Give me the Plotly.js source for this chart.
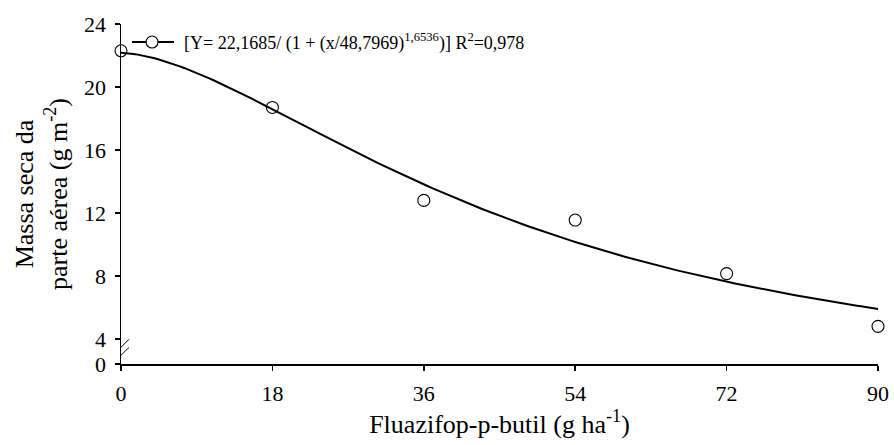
<!DOCTYPE html>
<html><head><meta charset="utf-8">
<script src="https://cdn.plot.ly/plotly-3.0.1.min.js"></script>
<style>html,body{margin:0;padding:0;background:#fff}</style>
</head><body>
<div id="chart" style="width:894px;height:445px"></div>
<script>
// Observed data
const doses = [0, 18, 36, 54, 72, 90];
const massa = [22.3, 18.7, 12.8, 11.55, 8.15, 4.8];
// Fitted model parameters (from legend)
const fitA = 22.1685, fitX0 = 48.7969, fitB = 1.6536;
const xTickVals = [0, 18, 36, 54, 72, 90];
const yTickVals = [4, 8, 12, 16, 20, 24];
const yBreakZero = 2.41; // axis position where the "0" label sits (broken axis)

const curveX = [], curveY = [];
for (let i = 0; i <= 180; i++) {
  const x = i * 0.5;
  curveX.push(x);
  curveY.push(fitA / (1 + Math.pow(x / fitX0, fitB)));
}
const legendText = '[Y= 22,1685/ (1 + (x/48,7969)<sup>1,6536</sup>)] R<sup>2</sup>=0,978';
const font = '"Liberation Serif", "Times New Roman", serif';

const traces = [
  {x: curveX, y: curveY, mode: 'lines', line: {color: '#000', width: 2}, showlegend: false, hoverinfo: 'skip'},
  {x: doses, y: massa, mode: 'markers', marker: {symbol: 'circle-open', size: 12, color: '#000', line: {width: 1.1}}, showlegend: false, cliponaxis: false}
];

const legY = 0.947;
const layout = {
  width: 894, height: 445,
  margin: {l: 121, r: 16, t: 24, b: 81},
  paper_bgcolor: '#fff', plot_bgcolor: '#fff',
  font: {family: font, color: '#000', size: 22},
  showlegend: false,
  xaxis: {
    range: [0, 90], tickvals: xTickVals, ticktext: xTickVals.map(String),
    showline: true, linecolor: '#000', linewidth: 1.5, ticks: 'outside', ticklen: 5, tickwidth: 1.5, tickcolor: '#000',
    showgrid: false, zeroline: false, tickfont: {family: font, size: 22}, ticklabelstandoff: 4,
    title: {text: 'Fluazifop-p-butil (g ha<sup>-1</sup>)', font: {family: font, size: 26}, standoff: 8}
  },
  yaxis: {
    range: [yBreakZero, 24], tickvals: [yBreakZero].concat(yTickVals), ticktext: ['0'].concat(yTickVals.map(String)),
    showline: true, linecolor: '#000', linewidth: 1.5, ticks: 'outside', ticklen: 5, tickwidth: 1.5, tickcolor: '#000',
    showgrid: false, zeroline: false, tickfont: {family: font, size: 22}, ticklabelstandoff: 4,
    title: {text: 'Massa seca da<br>parte aérea (g m<sup>-2</sup>)', font: {family: font, size: 26}, standoff: 9}
  },
  shapes: [
    {type: 'line', xref: 'x', yref: 'y', x0: -0.8, x1: 0.95, y0: 3.03, y1: 3.98, line: {color: '#000', width: 1}},
    {type: 'line', xref: 'x', yref: 'y', x0: -0.8, x1: 0.95, y0: 2.55, y1: 3.46, line: {color: '#000', width: 1}},
    // legend sample: line + open circle
    {type: 'line', xref: 'paper', yref: 'paper', x0: 0.0145, x1: 0.070, y0: legY, y1: legY, line: {color: '#000', width: 2}},
    {type: 'circle', xref: 'paper', yref: 'paper', xsizemode: 'pixel', ysizemode: 'pixel',
     xanchor: 0.041, yanchor: legY, x0: -6, x1: 6, y0: -6, y1: 6, fillcolor: '#fff', line: {color: '#000', width: 1.1}}
  ],
  annotations: [
    {text: legendText, xref: 'paper', yref: 'paper', x: 0.0805, y: legY, xanchor: 'left', yanchor: 'middle',
     showarrow: false, font: {family: font, size: 18, color: '#000'}}
  ]
};
Plotly.newPlot('chart', traces, layout, {staticPlot: true});
</script>
</body></html>
